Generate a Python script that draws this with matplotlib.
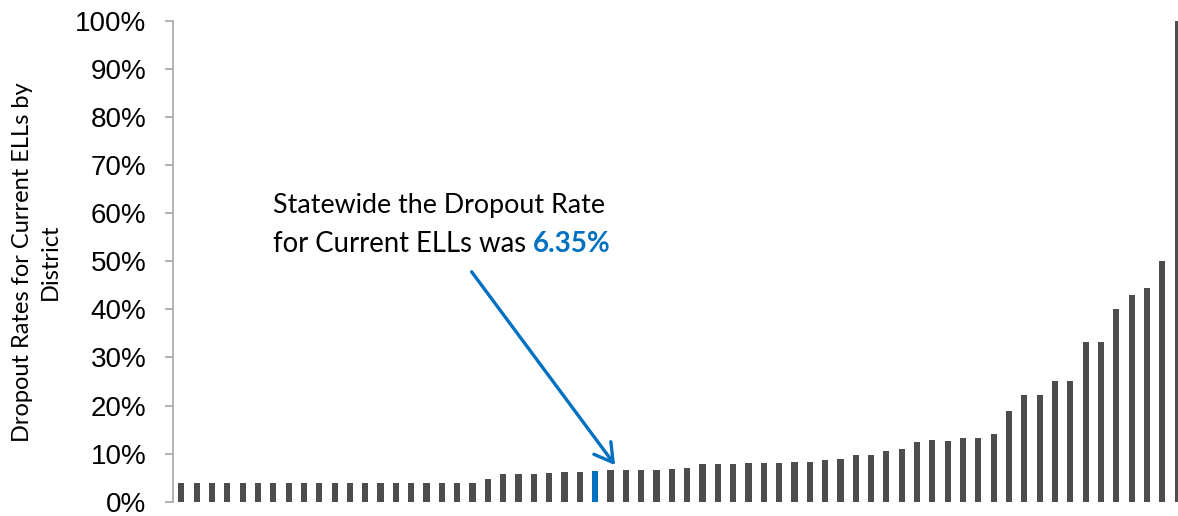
import numpy as np
import matplotlib
matplotlib.use('Agg')
import matplotlib.pyplot as plt
from matplotlib.ticker import FuncFormatter

# dropout rates (%) by district, sorted ascending; index 27 is the statewide bar
rates = [3.85] * 20 + [
    4.76, 5.7, 5.7, 5.83, 5.97, 6.1, 6.17, 6.3, 6.52, 6.52,
    6.59, 6.66, 6.86, 6.93, 7.76, 7.76, 7.83, 8.1, 8.1, 8.1,
    8.25, 8.32, 8.6, 8.8, 9.78, 9.78, 10.47, 10.96, 12.34, 12.76,
    12.7, 13.18, 13.3, 14.07, 18.86, 22.2, 22.2, 25.0, 25.0, 33.3,
    33.3, 40.0, 42.9, 44.4, 50.0, 100.0]
statewide_idx = 27
yticks = list(range(0, 101, 10))

ylabel = 'Dropout Rates for Current ELLs by\nDistrict'
note_1 = 'Statewide the Dropout Rate'
note_2 = 'for Current ELLs was'
note_val = '6.35%'

gray = '#4d4d4d'
blue = '#0070c0'
spine = '#a6a6a6'

fig = plt.figure(figsize=(11.78, 5.16), dpi=100)
ax = fig.add_axes([173 / 1178, 14.3 / 516, 1 - 173 / 1178, 481 / 516])

x = np.arange(len(rates))
colors = [blue if i == statewide_idx else gray for i in x]
ax.bar(x, rates, width=0.4, color=colors, clip_on=True)

ax.set_xlim(-0.54, len(rates) - 1 + 0.02)
ax.set_ylim(0, 100)
ax.set_xticks([])
ax.set_yticks(yticks)
ax.yaxis.set_major_formatter(FuncFormatter(lambda v, p: '%d%%' % v))

for s in ['top', 'right', 'bottom']:
    ax.spines[s].set_visible(False)
ax.spines['left'].set_color(spine)
ax.spines['left'].set_linewidth(1.2)
ax.tick_params(axis='y', direction='out', length=6, width=1.2, color=spine,
               pad=13, labelsize=20)
for lab in ax.get_yticklabels():
    lab.set_family('Liberation Sans')

fig.text(36 / 1178, 1 - 262 / 516, ylabel, rotation=90, ha='center', va='center',
         multialignment='center', family='Lato', fontsize=17, linespacing=1.4)

fig.text(272.7 / 1178, 1 - 213.3 / 516, note_1, ha='left', va='baseline',
         family='Lato', fontsize=19.3)
t2 = fig.text(272.7 / 1178, 1 - 251.7 / 516, note_2, ha='left', va='baseline',
              family='Lato', fontsize=19.8)
ax.annotate(note_val, xy=(1, 0), xycoords=t2, xytext=(5, 0), textcoords='offset points',
            ha='left', va='bottom', family='Lato', fontsize=20, fontweight='bold',
            color=blue)

ax.annotate('', xy=(28.3, 7.6), xytext=(18.94, 47.8),
            arrowprops=dict(arrowstyle='->,head_length=0.65,head_width=0.38',
                            mutation_scale=20, color=blue, lw=2.4,
                            shrinkA=0, shrinkB=0))

fig.savefig('out.png', dpi=100)
